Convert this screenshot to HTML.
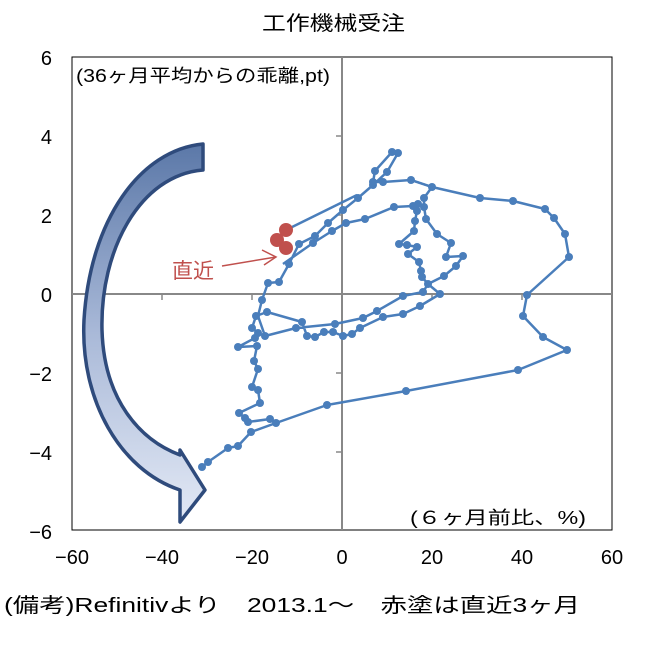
<!DOCTYPE html>
<html><head><meta charset="utf-8"><style>
body{margin:0;background:#fff;}
svg text{font-family:"Liberation Sans","Noto Sans CJK JP",sans-serif;}
</style></head><body>
<svg width="665" height="643" viewBox="0 0 665 643" xmlns="http://www.w3.org/2000/svg">
<defs>
<linearGradient id="g" x1="0" y1="0" x2="0" y2="1">
<stop offset="0" stop-color="#5b78a8"/><stop offset="0.5" stop-color="#a9b9d8"/><stop offset="1" stop-color="#e3e9f5"/>
</linearGradient>
</defs>
<text x="262" y="30" font-size="20" textLength="143" lengthAdjust="spacingAndGlyphs">工作機械受注</text>
<rect x="72" y="57" width="540" height="473" fill="none" stroke="#000" stroke-width="1"/>
<line x1="72" y1="294" x2="612" y2="294" stroke="#888" stroke-width="2"/>
<line x1="342" y1="57" x2="342" y2="530" stroke="#888" stroke-width="2"/>
<g stroke="#888" stroke-width="1.5">
<line x1="162" y1="294" x2="162" y2="300"/><line x1="252" y1="294" x2="252" y2="300"/><line x1="432" y1="294" x2="432" y2="300"/><line x1="522" y1="294" x2="522" y2="300"/>
<line x1="336" y1="136" x2="342" y2="136"/><line x1="336" y1="215" x2="342" y2="215"/><line x1="336" y1="373" x2="342" y2="373"/><line x1="336" y1="452" x2="342" y2="452"/>
</g>
<g font-size="20" text-anchor="end">
<text x="52" y="65">6</text><text x="52" y="144">4</text><text x="52" y="223">2</text><text x="52" y="302">0</text><text x="52" y="381">−2</text><text x="52" y="460">−4</text><text x="52" y="539">−6</text>
</g>
<g font-size="20" text-anchor="middle">
<text x="72" y="564">−60</text><text x="162" y="564">−40</text><text x="252" y="564">−20</text><text x="342" y="564">0</text><text x="432" y="564">20</text><text x="522" y="564">40</text><text x="612" y="564">60</text>
</g>
<text x="76" y="82" font-size="18" textLength="254" lengthAdjust="spacingAndGlyphs">(36ヶ月平均からの乖離,pt)</text>
<text x="410" y="524" font-size="18" textLength="176" lengthAdjust="spacingAndGlyphs">(６ヶ月前比、%)</text>
<text x="4" y="612" font-size="20" textLength="576" lengthAdjust="spacingAndGlyphs">(備考)Refinitivより　2013.1～　赤塗は直近3ヶ月</text>
<path d="M203,144 L203,170 C140,175 100,250 102,330 C104,400 140,440 180,455 L180,450 L205,490 L180,522 L180,490 C120,470 80,400 84,320 C90,220 140,150 203,144 Z" fill="url(#g)" stroke="#2f4b7c" stroke-width="3.5" stroke-linejoin="round"/>
<g fill="none" stroke="#4a7ebb" stroke-width="2.5" stroke-linejoin="round">
<polyline points="202,467 208,462 228,448 238,446 251,432 276,423 270,419 248,422 245,418 239,413 260,403 258,390 252,387 258,369 254,361 257,346 238,347 255,338 258,333 252,328 256,316 267,312 302,322 307,336 315,337 324,332 333,332 343,336 352,334 360,328 383,317 403,314 420,306 440,294 428,284 444,276 456,266 463,256 446,257 451,243 437,234 426,219 424,207 424,198 432,187 411,180 383,182 373,182 375,171 392,152 398,153 387,172 373,185 358,198 343,210 328,223 315,236 299,244 289,264 279,282 268,283 262,300 258,316 265,336 296,328 335,324 363,318 377,311 403,296 423,292 428,284 422,277 421,271 419,262 408,254 417,247 407,245 399,244 414,231 415,221 417,211 418,204 413,206 394,207 365,219 346,223 332,231 313,243 283,264"/>
<polyline points="276,423 327,405 406,391 518,370 567,350 543,337 523,316 527,295 569,257 565,234 554,218 545,209 513,201 480,198 432,187 411,180"/>
<polyline points="357,195 286,230"/>
</g>
<g fill="#4a7ebb">
<circle cx="202" cy="467" r="4"/><circle cx="208" cy="462" r="4"/><circle cx="228" cy="448" r="4"/><circle cx="238" cy="446" r="4"/><circle cx="251" cy="432" r="4"/><circle cx="276" cy="423" r="4"/><circle cx="270" cy="419" r="4"/><circle cx="248" cy="422" r="4"/><circle cx="245" cy="418" r="4"/><circle cx="239" cy="413" r="4"/><circle cx="260" cy="403" r="4"/><circle cx="258" cy="390" r="4"/><circle cx="252" cy="387" r="4"/><circle cx="258" cy="369" r="4"/><circle cx="254" cy="361" r="4"/><circle cx="257" cy="346" r="4"/><circle cx="238" cy="347" r="4"/><circle cx="255" cy="338" r="4"/><circle cx="258" cy="333" r="4"/><circle cx="252" cy="328" r="4"/><circle cx="256" cy="316" r="4"/><circle cx="267" cy="312" r="4"/><circle cx="302" cy="322" r="4"/><circle cx="307" cy="336" r="4"/><circle cx="315" cy="337" r="4"/><circle cx="324" cy="332" r="4"/><circle cx="333" cy="332" r="4"/><circle cx="343" cy="336" r="4"/><circle cx="352" cy="334" r="4"/><circle cx="360" cy="328" r="4"/><circle cx="383" cy="317" r="4"/><circle cx="403" cy="314" r="4"/><circle cx="420" cy="306" r="4"/><circle cx="440" cy="294" r="4"/><circle cx="428" cy="284" r="4"/><circle cx="444" cy="276" r="4"/><circle cx="456" cy="266" r="4"/><circle cx="463" cy="256" r="4"/><circle cx="446" cy="257" r="4"/><circle cx="451" cy="243" r="4"/><circle cx="437" cy="234" r="4"/><circle cx="426" cy="219" r="4"/><circle cx="424" cy="207" r="4"/><circle cx="424" cy="198" r="4"/><circle cx="432" cy="187" r="4"/><circle cx="411" cy="180" r="4"/><circle cx="383" cy="182" r="4"/><circle cx="373" cy="182" r="4"/><circle cx="375" cy="171" r="4"/><circle cx="392" cy="152" r="4"/><circle cx="398" cy="153" r="4"/><circle cx="387" cy="172" r="4"/><circle cx="373" cy="185" r="4"/><circle cx="358" cy="198" r="4"/><circle cx="343" cy="210" r="4"/><circle cx="328" cy="223" r="4"/><circle cx="315" cy="236" r="4"/><circle cx="299" cy="244" r="4"/><circle cx="289" cy="264" r="4"/><circle cx="279" cy="282" r="4"/><circle cx="268" cy="283" r="4"/><circle cx="262" cy="300" r="4"/><circle cx="265" cy="336" r="4"/><circle cx="296" cy="328" r="4"/><circle cx="335" cy="324" r="4"/><circle cx="363" cy="318" r="4"/><circle cx="377" cy="311" r="4"/><circle cx="403" cy="296" r="4"/><circle cx="423" cy="292" r="4"/><circle cx="422" cy="277" r="4"/><circle cx="421" cy="271" r="4"/><circle cx="419" cy="262" r="4"/><circle cx="408" cy="254" r="4"/><circle cx="417" cy="247" r="4"/><circle cx="407" cy="245" r="4"/><circle cx="399" cy="244" r="4"/><circle cx="414" cy="231" r="4"/><circle cx="415" cy="221" r="4"/><circle cx="417" cy="211" r="4"/><circle cx="418" cy="204" r="4"/><circle cx="413" cy="206" r="4"/><circle cx="394" cy="207" r="4"/><circle cx="365" cy="219" r="4"/><circle cx="346" cy="223" r="4"/><circle cx="332" cy="231" r="4"/><circle cx="313" cy="243" r="4"/><circle cx="327" cy="405" r="4"/><circle cx="406" cy="391" r="4"/><circle cx="518" cy="370" r="4"/><circle cx="567" cy="350" r="4"/><circle cx="543" cy="337" r="4"/><circle cx="523" cy="316" r="4"/><circle cx="527" cy="295" r="4"/><circle cx="569" cy="257" r="4"/><circle cx="565" cy="234" r="4"/><circle cx="554" cy="218" r="4"/><circle cx="545" cy="209" r="4"/><circle cx="513" cy="201" r="4"/><circle cx="480" cy="198" r="4"/>
</g>
<g fill="#c0504d">
<circle cx="286" cy="230" r="7"/><circle cx="277" cy="240" r="7"/><circle cx="286" cy="248" r="7"/>
</g>
<text x="172" y="278" font-size="21" fill="#c0504d">直近</text>
<g stroke="#c0504d" stroke-width="1.5" fill="none">
<line x1="222" y1="266" x2="276" y2="257"/><polyline points="262,250 276,257 264,265"/>
</g>
</svg>
</body></html>
